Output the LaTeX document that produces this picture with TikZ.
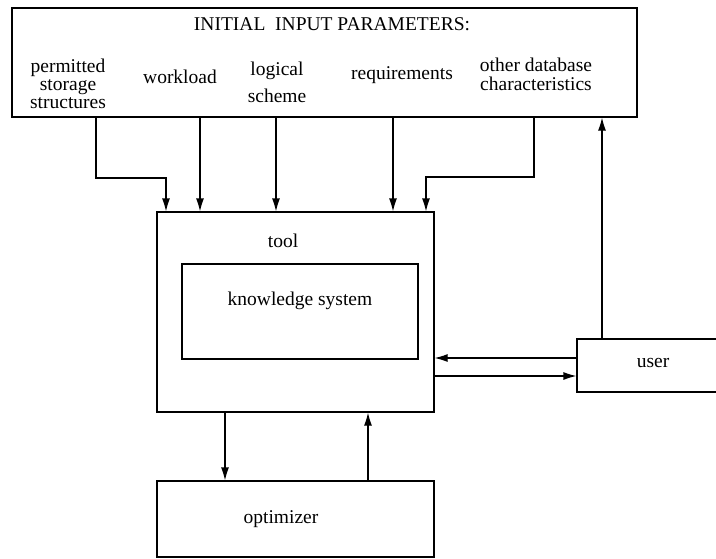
\documentclass[tikz,border=0pt]{standalone}
\usepackage{fontspec}
\setmainfont{Liberation Serif}
\usetikzlibrary{arrows.meta}
\begin{document}
\begin{tikzpicture}[x=1pt, y=-1pt, >={Latex[length=13pt,width=8pt]},
  every node/.style={font=\fontsize{19.5}{18}\selectfont, align=center},
  box/.style={draw, line width=1.2pt, inner sep=0pt},
  conn/.style={->, line width=1.2pt}]
\useasboundingbox (0,0) rectangle (716,558);
% boxes
\node[box, minimum width=625pt, minimum height=109pt] (top) at (324.5,62.5) {};
\node[box, minimum width=277pt, minimum height=200pt] (tool) at (295.5,312) {};
\node[box, minimum width=236pt, minimum height=95pt] (ks) at (300,311.5) {};
\node[box, minimum width=140pt, minimum height=53pt] (user) at (647,365.5) {};
\node[box, minimum width=277pt, minimum height=76pt] (opt) at (295.5,519) {};
% texts
\node (title) at (332,24) {INITIAL\ \ INPUT PARAMETERS:};
\node (perm) at (68,84) {permitted\\storage\\structures};
\node (wl) at (180,77) {workload};
\node[font=\fontsize{19.5}{27}\selectfont] (logic) at (277,82) {logical\\scheme};
\node (req) at (402,75) {requirements};
\node[font=\fontsize{19.5}{19}\selectfont] (other) at (536,74) {other database\\characteristics};
\node (tooltxt) at (283,241) {tool};
\node (kstxt) at (300,301) {knowledge system};
\node (usertxt) at (653,363) {user};
\node (opttxt) at (281,519) {optimizer};
% connector positions
\coordinate (b1) at (96,178);
\coordinate (e1) at (166,0);
\coordinate (e2) at (200,0);
\coordinate (e3) at (276,0);
\coordinate (e4) at (393,0);
\coordinate (b5) at (534,177);
\coordinate (e5) at (426,0);
\coordinate (e6) at (602,0);
\coordinate (e7) at (225,0);
\coordinate (e8) at (368,0);
\coordinate (h1) at (0,358);
\coordinate (h2) at (0,376);
% connectors
\draw[conn] (top.south -| b1) -- (b1) -| (tool.north -| e1);
\draw[conn] (top.south -| e2) -- (tool.north -| e2);
\draw[conn] (top.south -| e3) -- (tool.north -| e3);
\draw[conn] (top.south -| e4) -- (tool.north -| e4);
\draw[conn] (top.south -| b5) -- (b5) -| (tool.north -| e5);
\draw[conn] (user.north -| e6) -- (top.south -| e6);
\draw[conn] (user.west |- h1) -- (tool.east |- h1);
\draw[conn] (tool.east |- h2) -- (user.west |- h2);
\draw[conn] (tool.south -| e7) -- (opt.north -| e7);
\draw[conn] (opt.north -| e8) -- (tool.south -| e8);
\end{tikzpicture}
\end{document}
